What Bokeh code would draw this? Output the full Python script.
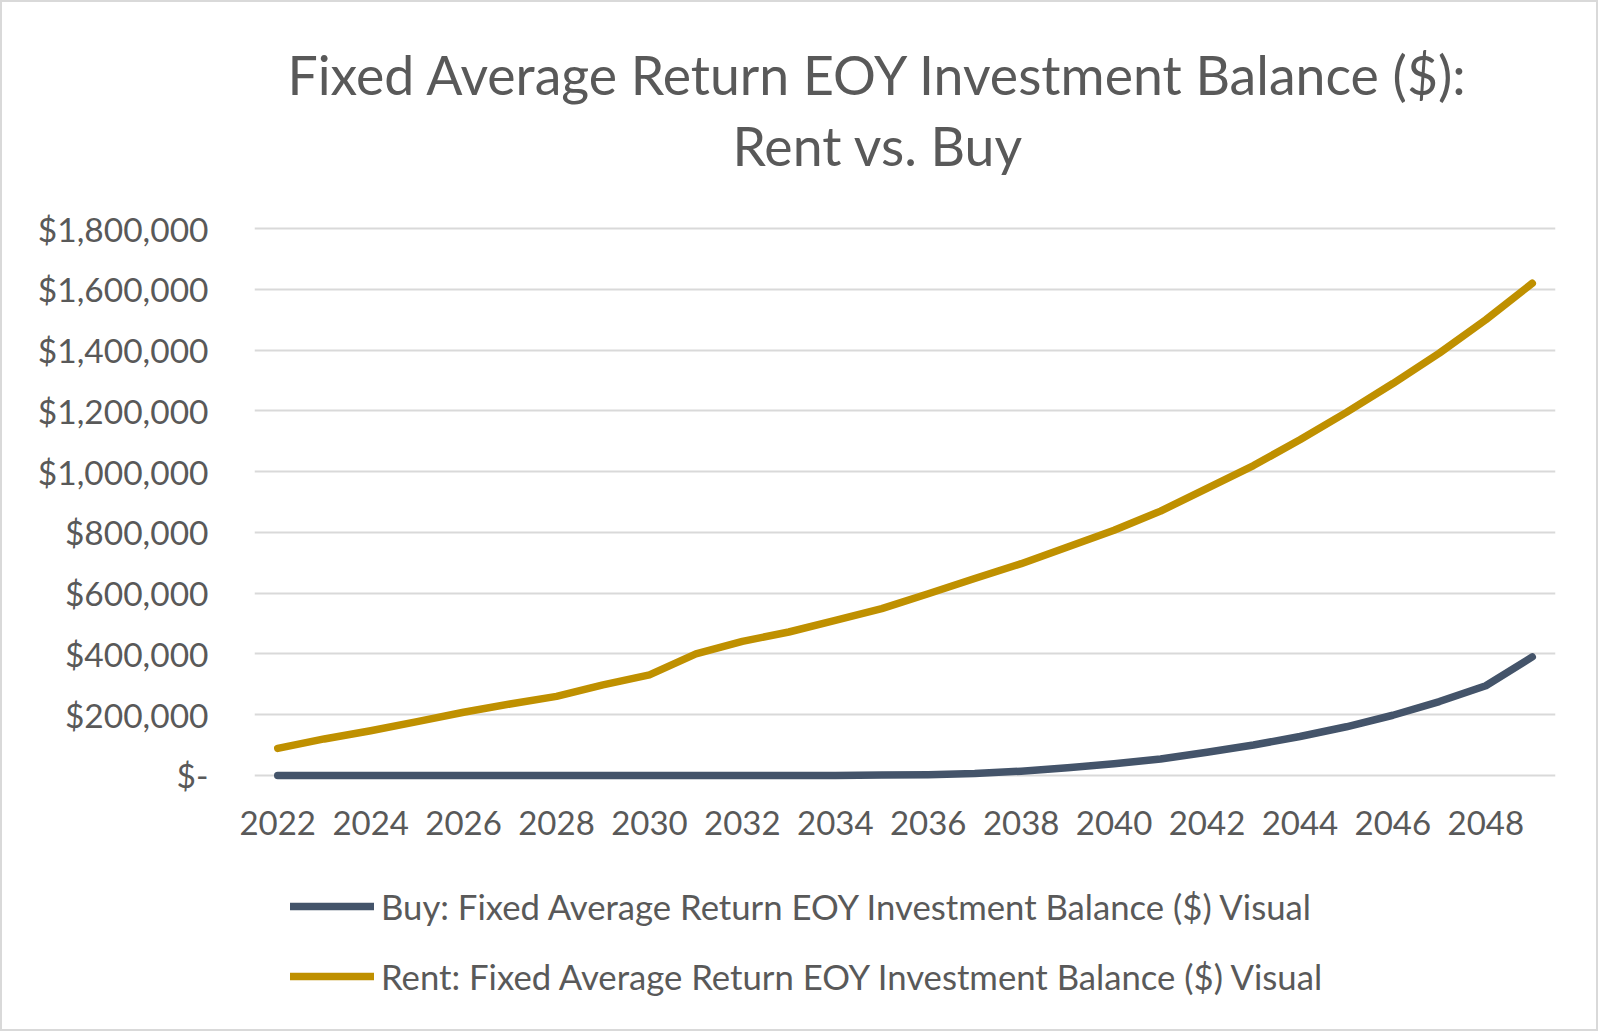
from bokeh.plotting import figure
from bokeh.models import (Title, Legend, LegendItem, FixedTicker,
                          CustomJSTickFormatter, Range1d)
from bokeh.layouts import column
from bokeh.embed import file_html
from bokeh.resources import INLINE

# ---- data ----
years = list(range(2022, 2050))
rent = [89000, 120000, 147000, 177000, 208000, 235000, 260000, 298000, 331000, 400000,
        441000, 472000, 510000, 549000, 598000, 648000, 697000, 752000, 807000, 870000,
        945000, 1020000, 1105000, 1195000, 1290000, 1390000, 1500000, 1620000]
buy = [0, 0, 0, 0, 0, 0, 0, 0, 0, 0, 0, 0, 0,
       1000, 2500, 6000, 14000, 25000, 38000, 54000, 76000, 100000, 128000,
       160000, 198000, 243000, 295000, 390000]
y_ticks = [0, 200000, 400000, 600000, 800000, 1000000, 1200000, 1400000, 1600000, 1800000]
x_ticks = list(range(2022, 2050, 2))
title_1 = "Fixed Average Return EOY Investment Balance ($):"
title_2 = "Rent vs. Buy"
buy_label = "Buy: Fixed Average Return EOY Investment Balance ($) Visual"
rent_label = "Rent: Fixed Average Return EOY Investment Balance ($) Visual"

FONT = "Lato"
TXT = "#595959"
GOLD = "#BF9000"
NAVY = "#44546A"
GRID = "#D9D9D9"
BORDER = "2px solid #D9D9D9"
W = 1598

# ---------------- main chart ----------------
p = figure(width=W, height=870, output_backend="svg", toolbar_location=None,
           x_range=Range1d(2021.5, 2049.5), y_range=Range1d(-30000, 1830000),
           min_border_left=252, min_border_right=45, min_border_top=217,
           min_border_bottom=88)
p.title.visible = False
p.outline_line_color = None
p.background_fill_color = "white"
p.border_fill_color = "white"
p.styles = {"border-top": BORDER, "border-left": BORDER, "border-right": BORDER,
            "box-sizing": "border-box"}

r_buy = p.line(years, buy, line_color=NAVY, line_width=7.5,
               line_cap="round", line_join="round")
r_rent = p.line(years, rent, line_color=GOLD, line_width=7.5,
                line_cap="round", line_join="round")

# y axis
p.yaxis.ticker = FixedTicker(ticks=y_ticks)
p.yaxis.formatter = CustomJSTickFormatter(code="""
    if (tick == 0) { return "$-"; }
    return "$" + Math.round(tick).toLocaleString('en-US');
""")
p.yaxis.axis_line_color = None
p.yaxis.major_tick_line_color = None
p.yaxis.minor_tick_line_color = None
p.yaxis.major_label_standoff = 40
p.yaxis.major_label_text_font = FONT
p.yaxis.major_label_text_font_size = "33.5px"
p.yaxis.major_label_text_color = TXT

# x axis
p.xaxis.ticker = FixedTicker(ticks=x_ticks)
p.xaxis.axis_line_color = None
p.xaxis.major_tick_line_color = None
p.xaxis.minor_tick_line_color = None
p.xaxis.major_label_standoff = 20
p.xaxis.major_label_text_font = FONT
p.xaxis.major_label_text_font_size = "33px"
p.xaxis.major_label_text_color = TXT

p.xgrid.grid_line_color = None
p.ygrid.grid_line_color = GRID
p.ygrid.grid_line_width = 2

# titles (spacer nearest the frame, then line 2, then line 1)
p.add_layout(Title(text="\u00a0", text_font_size="1px", standoff=40), "above")
p.add_layout(Title(text=title_2, align="left", offset=478, vertical_align="bottom",
                   standoff=0, text_font=FONT, text_font_size="53.6px",
                   text_color=TXT, text_font_style="normal"), "above")
p.add_layout(Title(text=title_1, align="left", offset=33, vertical_align="bottom",
                   standoff=9, text_font=FONT, text_font_size="53.6px",
                   text_color=TXT, text_font_style="normal"), "above")

# ---------------- legend strip ----------------
lg = figure(width=W, height=161, output_backend="svg", toolbar_location=None,
            x_range=Range1d(0, 1), y_range=Range1d(0, 1),
            x_axis_location=None, y_axis_location=None,
            min_border=0)
lg.title.visible = False
lg.outline_line_color = None
lg.background_fill_color = "white"
lg.border_fill_color = "white"
lg.grid.visible = False
lg.styles = {"border-bottom": BORDER, "border-left": BORDER, "border-right": BORDER,
             "box-sizing": "border-box"}

# legend proxies carrying the series styles (their data lie outside this strip's ranges)
lb = lg.line(years, buy, line_color=NAVY, line_width=7.5, line_cap="round")
lr = lg.line(years, rent, line_color=GOLD, line_width=7.5, line_cap="round")

legend = Legend(items=[LegendItem(label=buy_label, renderers=[lb]),
                       LegendItem(label=rent_label, renderers=[lr])],
                location=(36, 34), orientation="vertical",
                glyph_width=84, glyph_height=42, label_height=42,
                label_standoff=7, padding=0, spacing=28, margin=0,
                border_line_color=None, background_fill_alpha=0,
                label_text_font=FONT, label_text_font_size="34.7px",
                label_text_color=TXT)
lg.add_layout(legend)

layout = column(p, lg, spacing=0)
open("out.html", "w").write(file_html(layout, INLINE))
